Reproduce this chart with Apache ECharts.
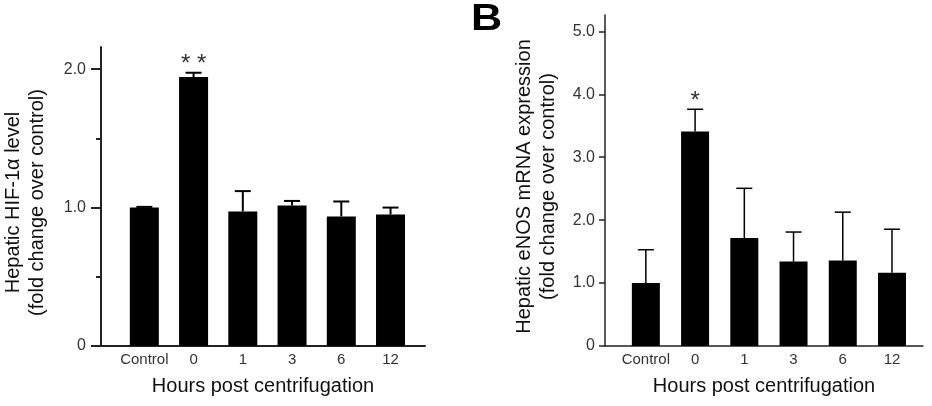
<!DOCTYPE html>
<html>
<head>
<meta charset="utf-8">
<script src="https://cdn.jsdelivr.net/npm/echarts@6/dist/echarts.min.js"></script>
<style>
  html, body { margin: 0; padding: 0; background: #fff; }
  #main { width: 932px; height: 406px; }
</style>
</head>
<body>
<div id="main"></div>
<script>
const categories = ['Control', '0', '1', '3', '6', '12']

// panel A: hepatic HIF-1α
const hifMean = [1.0, 1.943, 0.972, 1.015, 0.936, 0.95]
const hifErr = [0.005, 0.031, 0.147, 0.033, 0.108, 0.05]
const hifSig = ['', '**', '', '', '', '']
const hifTicks = [0, 1, 2]
const hifMinorTicks = [0.5, 1.5]

// panel B: hepatic eNOS mRNA
const enosMean = [1.0, 3.407, 1.716, 1.341, 1.357, 1.166]
const enosErr = [0.53, 0.355, 0.79, 0.47, 0.77, 0.69]
const enosSig = ['', '*', '', '', '', '']
const enosTicks = [0, 1, 2, 3, 4, 5]

const FONT = '"Liberation Sans", Arial, sans-serif'
const catIdx = categories.map((c, i) => i)

function tickFmt(v) {
    return v === 0 ? '0' : v.toFixed(1)
}

function xAxisFor(grid, min, max, lw) {
    return {
        type: 'value', gridIndex: grid, min: min, max: max,
        axisLine: { show: true, onZero: false, lineStyle: { color: '#222', width: lw } },
        axisTick: { show: false },
        splitLine: { show: false },
        axisLabel: {
            customValues: catIdx,
            formatter: v => categories[v],
            margin: 6, fontSize: 15, color: '#333', fontFamily: FONT
        },
        name: 'Hours post centrifugation',
        nameLocation: 'middle',
        nameGap: 30,
        nameTextStyle: { fontSize: 20, color: '#111', fontFamily: FONT }
    }
}

function errorSeries(grid, means, errs, sig, lw) {
    return {
        type: 'custom',
        xAxisIndex: grid, yAxisIndex: grid === 0 ? 0 : 2,
        data: means.map((m, i) => [i, m, m + errs[i]]),
        encode: { x: 0, y: [1, 2] },
        z: 3,
        renderItem(params, api) {
            let x = api.value(0)
            let base = api.coord([x, api.value(1)])
            let top = api.coord([x, api.value(2)])
            let st = { stroke: '#000', lineWidth: lw }
            let children = [
                { type: 'line', shape: { x1: base[0], y1: base[1], x2: top[0], y2: top[1] }, style: st },
                { type: 'line', shape: { x1: top[0] - 8, y1: top[1], x2: top[0] + 8, y2: top[1] }, style: st }
            ]
            let s = sig[params.dataIndex]
            if (s) {
                // stars are drawn a little apart, as in the figure
                children.push({
                    type: 'text', x: top[0], y: top[1] - 8,
                    style: { text: s.split('').join(' '), fill: '#333', font: '24px ' + FONT, align: 'center', verticalAlign: 'middle' }
                })
            }
            return { type: 'group', children: children }
        }
    }
}

var myChart = echarts.init(document.getElementById('main'))

let option = {
    backgroundColor: '#fff',
    animation: false,
    grid: [
        { left: 97, right: 507, top: 47, bottom: 60 },
        { left: 605, right: 9, top: 15, bottom: 60 }
    ],
    graphic: [
        { type: 'text', left: 471, top: 2, scaleX: 1.2,
          style: { text: 'B', font: 'bold 36px ' + FONT, fill: '#000' } }
    ],
    xAxis: [
        xAxisFor(0, -0.88, 5.70, 2),
        xAxisFor(1, -0.83, 5.63, 1.5)
    ],
    yAxis: [
        {
            type: 'value', gridIndex: 0, position: 'left', min: 0, max: 2.16,
            axisLine: { show: true, onZero: false, lineStyle: { color: '#222', width: 2 } },
            axisTick: { show: true, customValues: hifTicks, length: 10, lineStyle: { width: 2 } },
            splitLine: { show: false },
            axisLabel: { customValues: hifTicks, formatter: tickFmt, margin: 15, fontSize: 16, color: '#333', fontFamily: FONT },
            name: 'Hepatic HIF-1α level\n(fold change over control)',
            nameLocation: 'middle', nameGap: 52,
            nameTextStyle: { fontSize: 20, lineHeight: 24, color: '#111', fontFamily: FONT, padding: [0, 0, 0, -12] }
        },
        {
            // short minor ticks at 0.5 / 1.5
            type: 'value', gridIndex: 0, position: 'left', min: 0, max: 2.16,
            axisLine: { show: false, onZero: false },
            axisTick: { show: true, customValues: hifMinorTicks, length: 5, lineStyle: { color: '#222', width: 2 } },
            axisLabel: { show: false },
            splitLine: { show: false }
        },
        {
            type: 'value', gridIndex: 1, position: 'left', min: 0, max: 5.26,
            axisLine: { show: true, onZero: false, lineStyle: { color: '#222', width: 1.5 } },
            axisTick: { show: true, customValues: enosTicks, length: 6, lineStyle: { width: 1.5 } },
            splitLine: { show: false },
            axisLabel: { customValues: enosTicks, formatter: tickFmt, margin: 10, fontSize: 16, color: '#333', fontFamily: FONT },
            name: 'Hepatic eNOS mRNA expression\n(fold change over control)',
            nameLocation: 'middle', nameGap: 45,
            nameTextStyle: { fontSize: 20, lineHeight: 24, color: '#111', fontFamily: FONT, padding: [0, 0, 0, -12] }
        }
    ],
    series: [
        {
            type: 'bar', xAxisIndex: 0, yAxisIndex: 0, barWidth: 29,
            itemStyle: { color: '#000' },
            data: hifMean.map((v, i) => [i, v])
        },
        errorSeries(0, hifMean, hifErr, hifSig, 2),
        {
            type: 'bar', xAxisIndex: 1, yAxisIndex: 2, barWidth: 28,
            itemStyle: { color: '#000' },
            data: enosMean.map((v, i) => [i, v])
        },
        errorSeries(1, enosMean, enosErr, enosSig, 1.5)
    ]
}

myChart.setOption(option)
</script>
</body>
</html>
